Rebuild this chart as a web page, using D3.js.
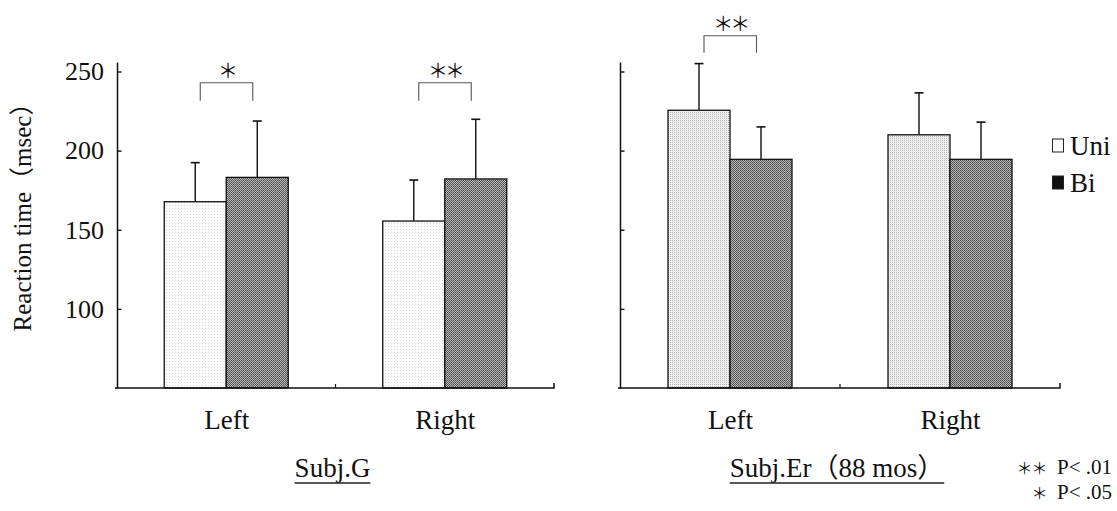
<!DOCTYPE html>
<html>
<head>
<meta charset="utf-8">
<script src="https://cdn.jsdelivr.net/npm/d3@7"></script>
<style>
  body { margin: 0; background: #fff; }
  text { font-family: "Liberation Serif", "Times New Roman", "Noto Sans CJK JP", serif; fill: #111; }
  .star { font-family: "Noto Sans CJK JP", sans-serif; }
</style>
</head>
<body>
<svg id="chart"></svg>
<script>
// categories and series (msec)
const sides = ['Left', 'Right'];
const conditions = ['Uni', 'Bi'];
const yTicks = [100, 150, 200, 250];

const subjG_uni = [167.7, 155.5];
const subjG_bi = [183.1, 182.1];
const subjG_uniSD = [24.7, 25.9];
const subjG_biSD = [35.6, 37.7];
const subjG_sig = ['＊', '＊＊'];

const subjEr_uni = [225.5, 210];
const subjEr_bi = [194.5, 194.5];
const subjEr_uniSD = [29.5, 26.5];
const subjEr_biSD = [20.5, 23.5];
const subjEr_sig = ['＊＊', ''];

const panelTitles = ['Subj.G', 'Subj.Er（88 mos）'];

const width = 1117, height = 511;
const svg = d3.select('#chart').attr('width', width).attr('height', height);

// bar textures
const defs = svg.append('defs');
function dotPattern(id, size, bg, dots) {
  let p = defs.append('pattern').attr('id', id)
      .attr('patternUnits', 'userSpaceOnUse')
      .attr('width', size).attr('height', size);
  p.append('rect').attr('width', size).attr('height', size).attr('fill', bg);
  dots.forEach(d => p.append('rect').attr('x', d[0]).attr('y', d[1])
      .attr('width', 1).attr('height', 1).attr('fill', d[2]));
}
dotPattern('uniLight', 3, '#fcfcfc', [[1, 1, '#dadada']]);
dotPattern('uniGray', 2, '#eeeeee', [[0, 0, '#b8b8b8']]);
dotPattern('biDark', 2, '#b8b8b8', [[0, 0, '#4e4e4e'], [1, 1, '#5a5a5a']]);

// shared y scale
const yScale = d3.scaleLinear().domain([50, 256]).range([388, 62]);

const panels = [
  {x0: 117, x1: 554, uni: subjG_uni, bi: subjG_bi, uniSD: subjG_uniSD, biSD: subjG_biSD,
   sig: subjG_sig, bracketY: 82.7, bracketLeg: 18, uniFill: 'url(#uniLight)', labels: true, title: panelTitles[0]},
  {x0: 620, x1: 1060, uni: subjEr_uni, bi: subjEr_bi, uniSD: subjEr_uniSD, biSD: subjEr_biSD,
   sig: subjEr_sig, bracketY: 35.7, bracketLeg: 17, uniFill: 'url(#uniGray)', labels: false, title: panelTitles[1]}
];

panels.forEach(p => {
  let w = p.x1 - p.x0;
  let g = svg.append('g').attr('transform', `translate(${p.x0},0)`);

  let xScale = d3.scalePoint().domain(sides).range([0, w]).padding(0.5);
  let xSub = d3.scaleBand().domain(conditions).range([-62, 62]);

  let rows = [];
  sides.forEach((s, i) => {
    rows.push({side: s, cond: 'Uni', value: p.uni[i], sd: p.uniSD[i]});
    rows.push({side: s, cond: 'Bi', value: p.bi[i], sd: p.biSD[i]});
  });

  // bars
  g.selectAll('.bar').data(rows).join('rect')
      .attr('class', 'bar')
      .attr('x', d => xScale(d.side) + xSub(d.cond))
      .attr('width', xSub.bandwidth())
      .attr('y', d => yScale(d.value))
      .attr('height', d => yScale(50) - yScale(d.value))
      .attr('fill', d => d.cond === 'Uni' ? p.uniFill : 'url(#biDark)')
      .attr('stroke', '#111').attr('stroke-width', 1.3);

  // error bars (upper only)
  let cx = d => xScale(d.side) + xSub(d.cond) + xSub.bandwidth() / 2;
  g.selectAll('.err').data(rows).join('line')
      .attr('class', 'err')
      .attr('x1', cx).attr('x2', cx)
      .attr('y1', d => yScale(d.value)).attr('y2', d => yScale(d.value + d.sd))
      .attr('stroke', '#111').attr('stroke-width', 1.4);
  g.selectAll('.cap').data(rows).join('line')
      .attr('class', 'cap')
      .attr('x1', d => cx(d) - 4.5).attr('x2', d => cx(d) + 4.5)
      .attr('y1', d => yScale(d.value + d.sd)).attr('y2', d => yScale(d.value + d.sd))
      .attr('stroke', '#111').attr('stroke-width', 1.6);

  // significance brackets
  let sigRows = sides.map((s, i) => ({side: s, label: p.sig[i]})).filter(d => d.label);
  let bl = d => xScale(d.side) + xSub('Uni') + xSub.bandwidth() / 2 + 5;
  let br = d => xScale(d.side) + xSub('Bi') + xSub.bandwidth() / 2 - 4.5;
  g.selectAll('.bracket').data(sigRows).join('path')
      .attr('class', 'bracket')
      .attr('d', d => `M${bl(d)},${p.bracketY + p.bracketLeg}V${p.bracketY}H${br(d)}V${p.bracketY + p.bracketLeg}`)
      .attr('fill', 'none').attr('stroke', '#555').attr('stroke-width', 1.1);
  g.selectAll('.sig').data(sigRows).join('text')
      .attr('class', 'star')
      .attr('x', d => (bl(d) + br(d)) / 2)
      .attr('y', p.bracketY - 5)
      .attr('text-anchor', 'middle')
      .attr('font-size', 20)
      .attr('letter-spacing', -3)
      .text(d => d.label);

  // y axis, ticks point inward
  let yAxis = d3.axisLeft(yScale).tickValues(yTicks)
      .tickSize(-4.5).tickSizeOuter(0).tickPadding(13)
      .tickFormat(p.labels ? d3.format('d') : '');
  let yAxisG = g.append('g').call(yAxis);
  yAxisG.select('.domain').attr('stroke', '#111').attr('stroke-width', 1.5);
  yAxisG.selectAll('.tick line').attr('stroke', '#111').attr('stroke-width', 1.4);
  yAxisG.selectAll('.tick text').attr('font-size', 26).attr('fill', '#111');

  // x axis
  let xAxis = d3.axisBottom(xScale).tickSize(0).tickPadding(22);
  let xAxisG = g.append('g').attr('transform', `translate(0,${yScale(50)})`).call(xAxis);
  xAxisG.select('.domain').attr('d', `M-2,0H${w}V-5`)
      .attr('stroke', '#111').attr('stroke-width', 1.5);
  xAxisG.selectAll('.tick text').attr('font-size', 27).attr('fill', '#111');
  xAxisG.append('line')
      .attr('x1', w / 2).attr('x2', w / 2).attr('y1', 0).attr('y2', -4)
      .attr('stroke', '#111').attr('stroke-width', 1.2);

  // panel title, underlined
  let t = g.append('text')
      .attr('x', w / 2 - 3).attr('y', 477)
      .attr('text-anchor', 'middle')
      .attr('font-size', 27)
      .text(p.title);
  let bb = t.node().getBBox();
  g.append('line')
      .attr('x1', bb.x).attr('x2', bb.x + bb.width)
      .attr('y1', 483).attr('y2', 483)
      .attr('stroke', '#222').attr('stroke-width', 1.3);
});

// y axis title
svg.append('text')
    .attr('transform', 'translate(31,211) rotate(-90)')
    .attr('text-anchor', 'middle')
    .attr('font-size', 25)
    .text('Reaction time（msec）');

// legend
const legendColors = ['#fff', '#111'];
const legend = svg.append('g').attr('transform', 'translate(1052,0)');
legend.selectAll('rect').data(conditions).join('rect')
    .attr('x', 0.5).attr('y', (d, i) => 139 + i * 37)
    .attr('width', 11).attr('height', 13)
    .attr('fill', (d, i) => legendColors[i])
    .attr('stroke', '#222').attr('stroke-width', 1);
legend.selectAll('text').data(conditions).join('text')
    .attr('x', 18).attr('y', (d, i) => 155 + i * 37)
    .attr('font-size', 27)
    .text(d => d);

// significance footnote
const notes = [['＊＊', 'P< .01'], ['＊', 'P< .05']];
notes.forEach((n, i) => {
  let t = svg.append('text')
      .attr('x', 1112).attr('y', 474 + i * 25)
      .attr('text-anchor', 'end')
      .attr('font-size', 21);
  t.append('tspan').attr('class', 'star').attr('font-size', 16).attr('letter-spacing', -1).text(n[0]);
  t.append('tspan').text('\u2002' + n[1]);
});
</script>
</body>
</html>
